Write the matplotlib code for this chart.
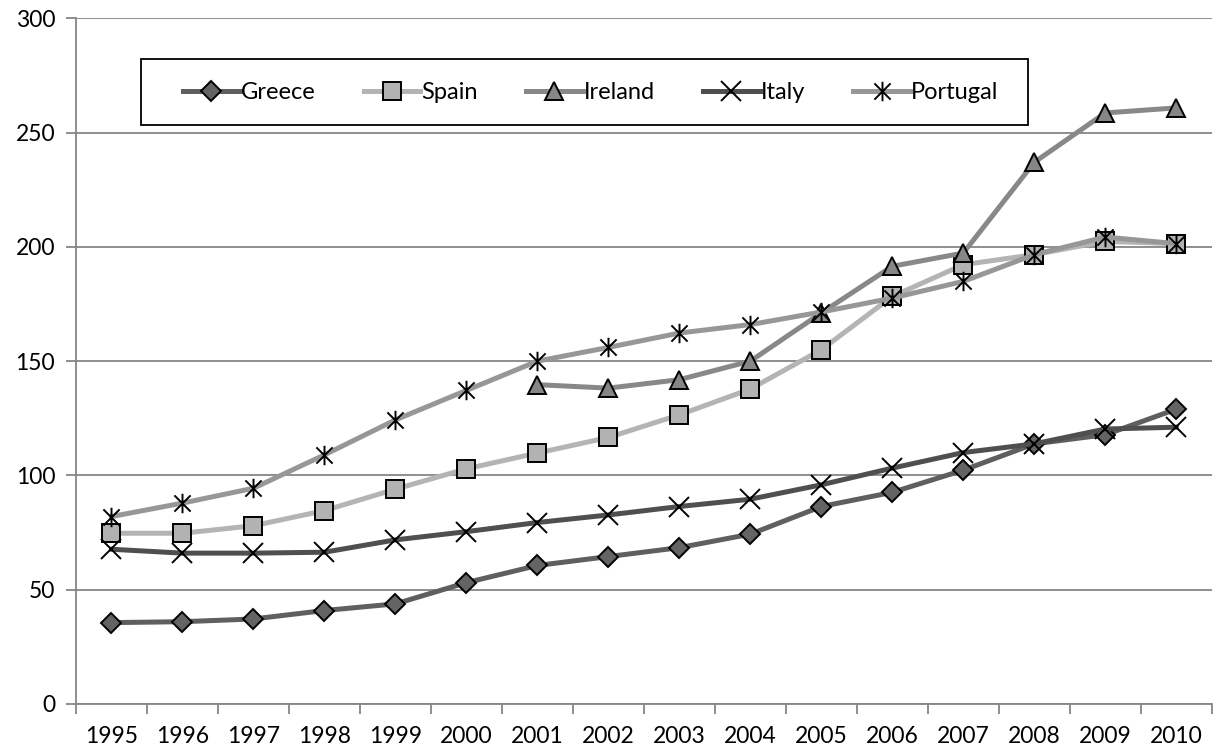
import numpy as np
import matplotlib
matplotlib.use('Agg')
import matplotlib.pyplot as plt
from matplotlib.path import Path
from matplotlib.patches import Rectangle

years = [str(y) for y in range(1995, 2011)]

greece = [35.6, 36.0, 37.2, 40.9, 43.8, 53.1, 60.6, 64.5, 68.4, 74.3, 86.4, 92.6, 102.3, 113.8, 117.8, 129.0]
spain = [74.7, 74.7, 78.0, 84.6, 94.0, 102.9, 109.8, 116.6, 126.5, 137.8, 155.0, 178.3, 192.2, 196.6, 202.4, 201.4]
ireland = [np.nan, np.nan, np.nan, np.nan, np.nan, np.nan, 139.7, 138.2, 141.9, 150.0, 171.1, 191.5, 197.3, 237.0, 258.6, 260.8]
italy = [67.7, 66.0, 66.0, 66.4, 71.8, 75.4, 79.4, 82.7, 86.4, 89.6, 95.9, 103.2, 110.0, 113.8, 120.3, 121.1]
portugal = [82.0, 87.9, 94.4, 109.0, 124.3, 137.2, 150.0, 156.0, 162.3, 166.0, 171.5, 177.6, 184.9, 196.6, 204.3, 201.4]

plt.rcParams['font.family'] = ['Lato', 'DejaVu Sans']

# excel style asterisk: an x with a vertical bar
star = Path([(-0.5, -0.5), (0.5, 0.5), (-0.5, 0.5), (0.5, -0.5), (0, -0.6), (0, 0.6)],
            [Path.MOVETO, Path.LINETO, Path.MOVETO, Path.LINETO, Path.MOVETO, Path.LINETO])

series = [
    ('Greece', greece, '#5f5f5f', 'D', 10, '#646464'),
    ('Spain', spain, '#b4b4b4', 's', 13.5, '#b2b2b2'),
    ('Ireland', ireland, '#888888', '^', 13.5, '#868686'),
    ('Italy', italy, '#4f4f4f', 'x', 14, 'none'),
    ('Portugal', portugal, '#979797', star, 14, 'none'),
]

fig = plt.figure(figsize=(12.16, 7.56), dpi=100)
ax = fig.add_axes([0.0625, 0.0688, 0.934, 0.907])

x = np.arange(len(years))
for name, vals, col, mk, ms, fc in series:
    ax.plot(x, vals, color=col, lw=3.6, marker=mk, markersize=ms,
            markerfacecolor=fc, markeredgecolor='black', markeredgewidth=1.4,
            label=name, solid_joinstyle='round', zorder=3)

ax.set_xlim(-0.5, len(years) - 0.5)
ax.set_ylim(0, 300)
ax.set_yticks(range(0, 301, 50))
ax.set_xticks(np.arange(-0.5, len(years)), minor=False)
ax.set_xticklabels([])
ax.set_xticks(x, minor=True)
ax.set_xticklabels(years, minor=True)
ax.tick_params(axis='x', which='major', length=7, width=1.3, color='#868686')
ax.tick_params(axis='x', which='minor', length=0, pad=16, labelsize=16.5)
ax.tick_params(axis='y', length=7, width=1.3, color='#868686', labelsize=16.5, pad=8)

ax.grid(axis='y', color='#868686', lw=1.3)
ax.set_axisbelow(True)
for s in ['top', 'right']:
    ax.spines[s].set_visible(False)
for s in ['left', 'bottom']:
    ax.spines[s].set_color('#868686')
    ax.spines[s].set_linewidth(1.3)

# legend box, drawn separately so the inner padding can be wider than tall
ax.add_patch(Rectangle((0.0573, 0.844), 0.781, 0.096, transform=ax.transAxes,
                       facecolor='white', edgecolor='black', lw=1.3, zorder=4))
ax.legend(loc='center', bbox_to_anchor=(0.0943, 0.892, 0.718, 0), mode='expand',
          ncol=5, fontsize=17, handlelength=2.4, handletextpad=0.05,
          frameon=False, borderpad=0, borderaxespad=0)

fig.savefig('out.png', dpi=100)
